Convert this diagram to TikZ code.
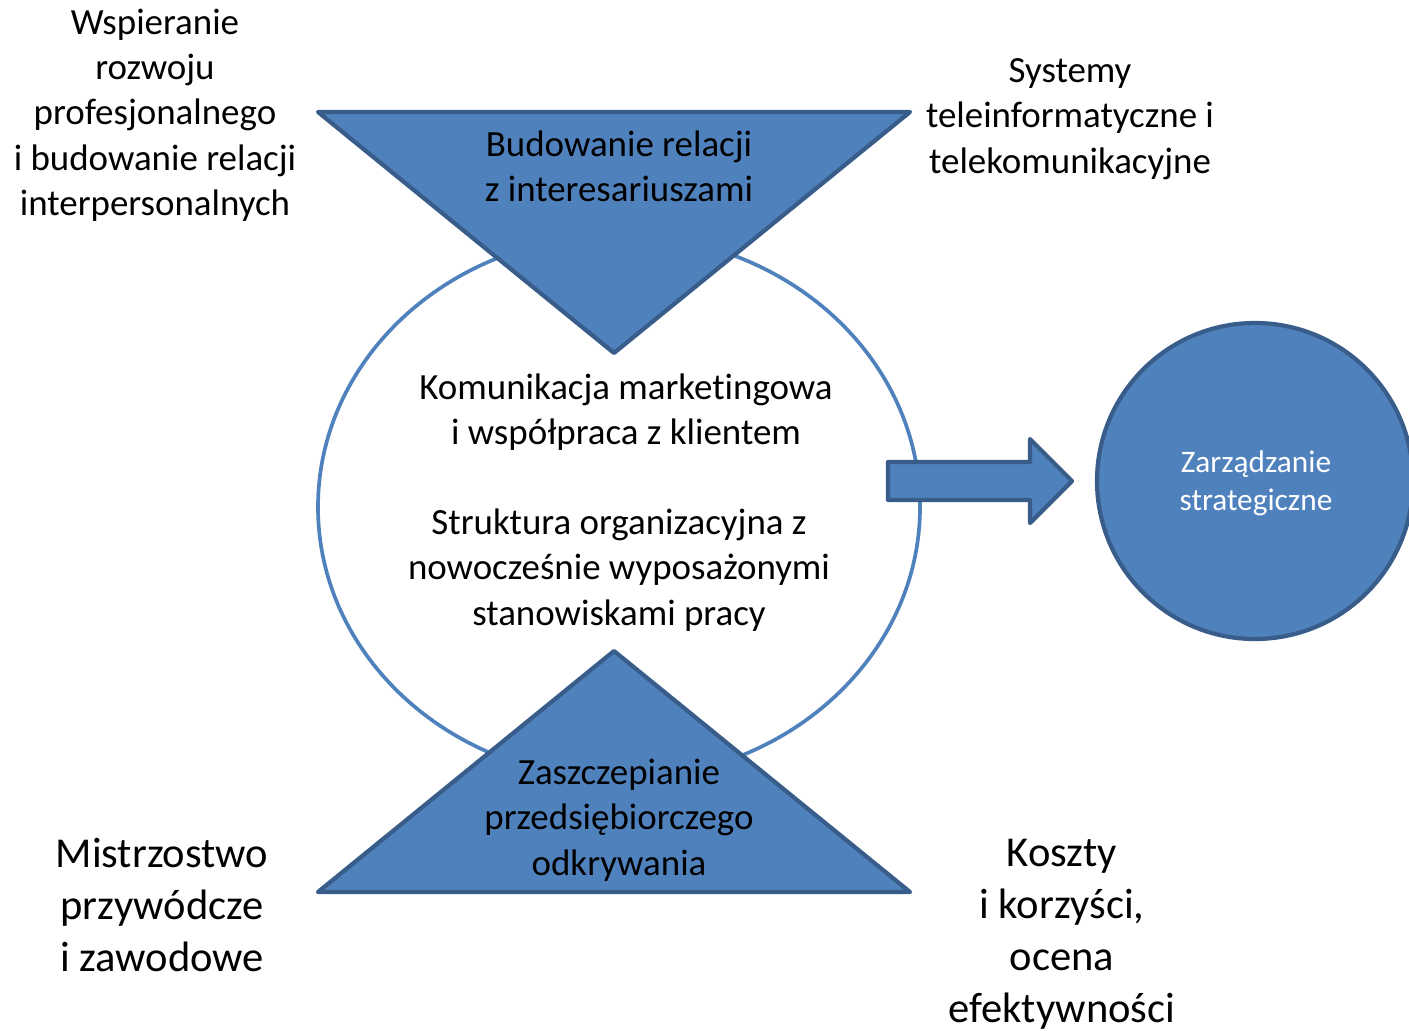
\documentclass[tikz,border=0pt]{standalone}
\usepackage{fontspec}
\setmainfont{Carlito}[Ligatures=NoCommon]
\usepackage{tikz}
\definecolor{officeblue}{HTML}{4F81BD}
\definecolor{officedark}{HTML}{385D8A}
\tikzset{
  shapefill/.style={fill=officeblue,draw=officedark,line width=1.2pt,line join=round},
  txt/.style={align=center,inner sep=0pt,font=\fontsize{10.5}{12.9}\selectfont},
  bigtxt/.style={align=center,inner sep=0pt,font=\fontsize{12.1}{14.8}\selectfont},
  smalltxt/.style={align=center,inner sep=0pt,text=white,font=\fontsize{8.9}{10.8}\selectfont}
}
\begin{document}
\begin{tikzpicture}[x=0.01cm,y=-0.01cm]
		\useasboundingbox (0,0) rectangle (1409,1030);
		%
		\draw[officeblue,line width=1.05pt] (619,507) ellipse [x radius=301,y radius=272];
		%
		\coordinate (T1) at (318,112);
		\coordinate (T2) at (910,112);
		\coordinate (T3) at (614,353);
		\coordinate (B1) at (318,892);
		\coordinate (B2) at (910,892);
		\coordinate (B3) at (614,651);
		\filldraw[shapefill] (T1) -- (T2) -- (T3) -- cycle;
		\filldraw[shapefill] (B1) -- (B2) -- (B3) -- cycle;
		%
		\filldraw[shapefill] (888,462) -- (1030,462) -- (1030,439) -- (1072,481)
		  -- (1030,523) -- (1030,500) -- (888,500) -- cycle;
		\filldraw[shapefill] (1255,481) circle (158);
		%
		\node[txt] (budowanie) at (619,166) {Budowanie relacji\\z interesariuszami};
		\node[txt] (zaszczep) at (619,820) {Zaszczepianie\\przedsiębiorczego\\odkrywania};
		\node[txt] (komunik) at (626,412) {Komunikacja marketingowa\\i współpraca z klientem};
		\node[txt] (struktura) at (619,570) {Struktura organizacyjna z\\nowocześnie wyposażonymi\\stanowiskami pracy};
		\node[smalltxt] (zarzadz) at (1256,483) {Zarządzanie\\strategiczne};
		%
		\node[txt] (wspier) at (155,115) {Wspieranie\\rozwoju\\profesjonalnego\\i budowanie relacji\\interpersonalnych};
		\node[txt] (systemy) at (1070,119) {Systemy\\teleinformatyczne i\\telekomunikacyjne};
		\node[bigtxt] (mistrz) at (162,905) {Mistrzostwo\\przywódcze\\i zawodowe};
		\node[bigtxt] (koszty) at (1062,934) {Koszty\\i korzyści,\\ocena\\efektywności};
		\end{tikzpicture}
\end{document}
